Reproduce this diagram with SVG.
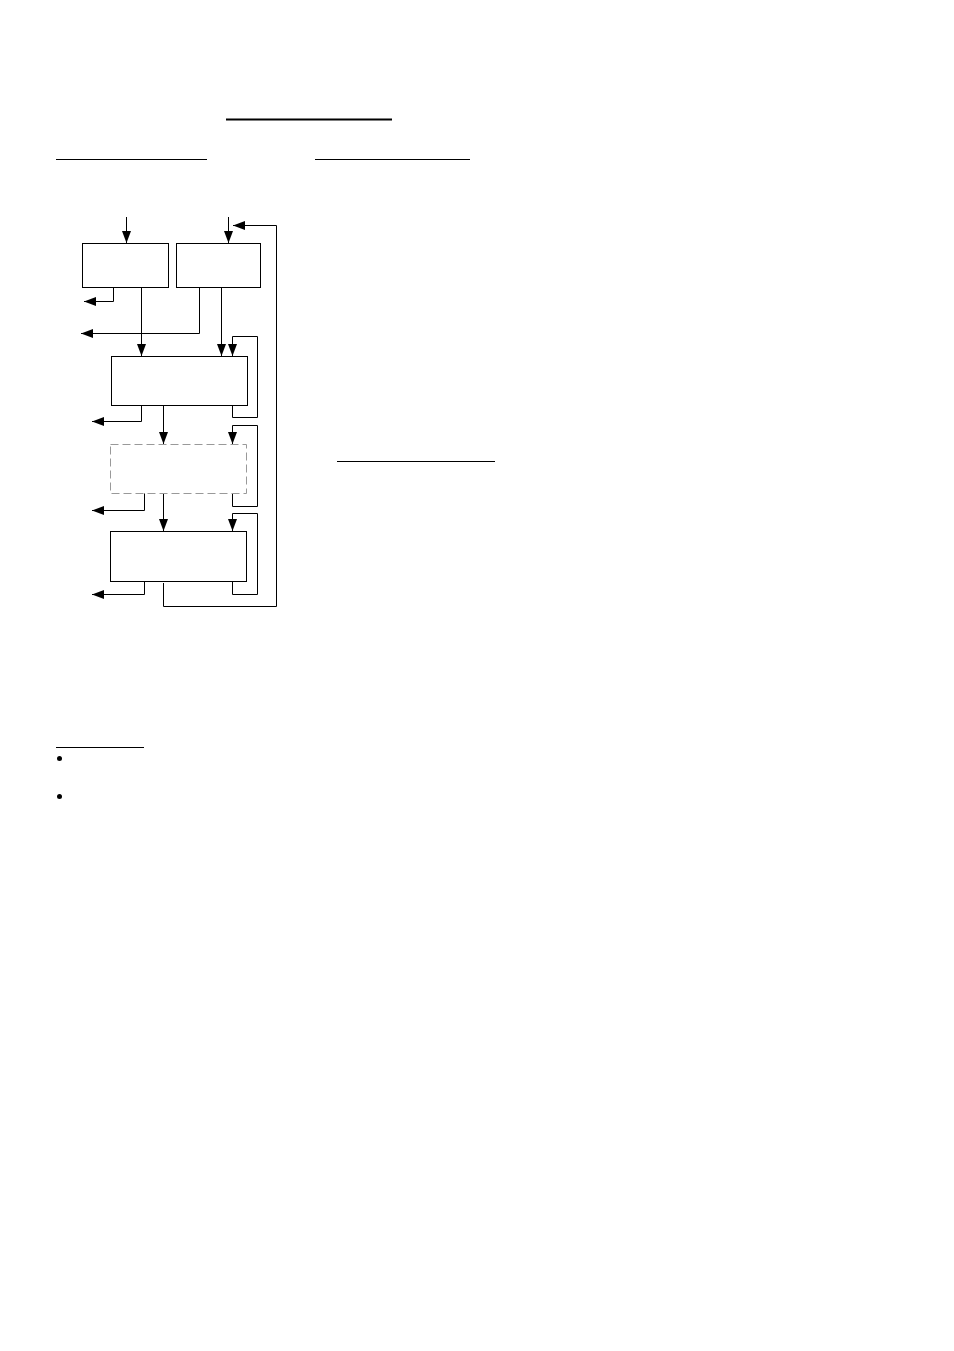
<svg xmlns="http://www.w3.org/2000/svg" width="954" height="1351" viewBox="0 0 954 1351">
<style>
.box{fill:#fff;stroke:#000;stroke-width:1}
.dash{fill:#fff;stroke:#999;stroke-width:1;stroke-dasharray:8,4}
.c{fill:none;stroke:#000;stroke-width:1}
.ul{stroke:#000;stroke-width:1}
</style>
<defs>
<marker id="ah" markerUnits="userSpaceOnUse" markerWidth="12" markerHeight="9" refX="12" refY="4.5" orient="auto">
<path d="M0,0 L12,4.5 L0,9 Z" fill="#000"/>
</marker>
</defs>
<rect width="954" height="1351" fill="#fff"/>
<g id="underlines">
<line x1="226" y1="119.5" x2="392" y2="119.5" stroke="#000" stroke-width="2"/>
<line class="ul" x1="56" y1="159.5" x2="207" y2="159.5"/>
<line class="ul" x1="315" y1="159.5" x2="470" y2="159.5"/>
<line class="ul" x1="337" y1="461.5" x2="495" y2="461.5"/>
<line class="ul" x1="56" y1="747.5" x2="144" y2="747.5"/>
</g>
<g id="bullets">
<circle cx="59.5" cy="758.5" r="2.5" fill="#000"/>
<circle cx="59.5" cy="796.5" r="2.5" fill="#000"/>
</g>
<g id="connectors">
<path class="c" d="M126.5,217 V243" marker-end="url(#ah)"/>
<path class="c" d="M228.5,217 V243" marker-end="url(#ah)"/>
<path class="c" d="M113.5,287 V301.5 H84" marker-end="url(#ah)"/>
<path class="c" d="M199.5,287 V333.5 H81" marker-end="url(#ah)"/>
<path class="c" d="M141.5,287 V356" marker-end="url(#ah)"/>
<path class="c" d="M221.5,287 V356" marker-end="url(#ah)"/>
<path class="c" d="M232.5,405 V417.5 H257.5 V336.5 H232.5 V356" marker-end="url(#ah)"/>
<path class="c" d="M141.5,405 V421.5 H92" marker-end="url(#ah)"/>
<path class="c" d="M163.5,405 V444" marker-end="url(#ah)"/>
<path class="c" d="M232.5,493 V506.5 H257.5 V425.5 H232.5 V444" marker-end="url(#ah)"/>
<path class="c" d="M144.5,493 V510.5 H92" marker-end="url(#ah)"/>
<path class="c" d="M163.5,493 V531" marker-end="url(#ah)"/>
<path class="c" d="M232.5,581 V594.5 H257.5 V513.5 H232.5 V531" marker-end="url(#ah)"/>
<path class="c" d="M144.5,581 V594.5 H92" marker-end="url(#ah)"/>
<path class="c" d="M163.5,583 V606.5 H276.5 V225.5 H233" marker-end="url(#ah)"/>
</g>
<g id="n1"><rect class="box" x="82.5" y="243.5" width="86" height="44"/></g>
<g id="n2"><rect class="box" x="176.5" y="243.5" width="84" height="44"/></g>
<g id="n3"><rect class="box" x="111.5" y="356.5" width="136" height="49"/></g>
<g id="n4"><rect class="dash" x="110.5" y="444.5" width="136" height="49"/></g>
<g id="n5"><rect class="box" x="110.5" y="531.5" width="136" height="50"/></g>
</svg>
